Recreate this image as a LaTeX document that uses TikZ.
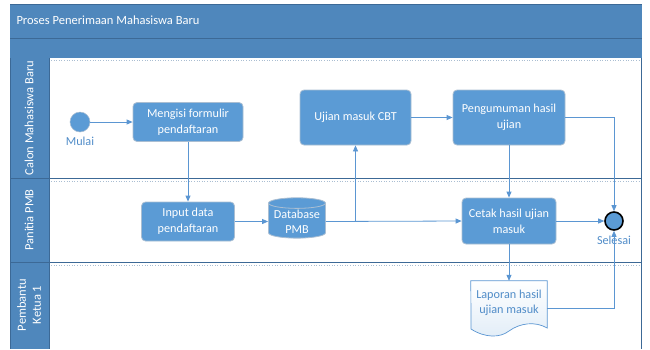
\documentclass[tikz,border=0pt]{standalone}
\usepackage{fontspec}
\setmainfont{Carlito}
\usetikzlibrary{arrows.meta,shapes.geometric}
\definecolor{band}{RGB}{79,135,188}
\definecolor{bandline}{RGB}{60,105,150}
\definecolor{boxfill}{RGB}{91,155,213}
\definecolor{boxline}{RGB}{170,190,210}
\definecolor{arrowc}{RGB}{91,150,210}
\definecolor{labelc}{RGB}{80,140,200}
\tikzset{
  task/.style={draw=boxline, line width=0.8pt, fill=boxfill, rounded corners=4pt, text=white, align=center, font=\fontsize{12.2}{16}\selectfont, inner sep=2pt},
  arr/.style={draw=arrowc, line width=0.8pt, -{Triangle[length=6pt,width=5pt]}},
  lanelabel/.style={rotate=90, text=white, align=center, font=\fontsize{12.5}{14}\selectfont},
  evlabel/.style={text=labelc, font=\fontsize{12.2}{14}\selectfont},
  lanesep/.style={draw=bandline, line width=1pt},
  lanedot/.style={draw=boxline, line width=0.6pt, dotted}
}
\begin{document}
\begin{tikzpicture}[x=1pt,y=-1pt]
\useasboundingbox (0,0) rectangle (650,349);
% header bands
\fill[band] (10,4) rectangle (642,58);
\draw[bandline, line width=0.6pt] (10,4) -- (642,4);
\draw[bandline, line width=0.8pt] (10,38) -- (642,38);
\node[anchor=west, text=white, font=\fontsize{12.5}{14}\selectfont] (title) at (13,20) {Proses Penerimaan Mahasiswa Baru};
% lane header column
\fill[band] (10,58) rectangle (49,349);
\draw[bandline, line width=0.8pt] (10,58) -- (10,349);
\draw[bandline, line width=0.8pt] (49,58) -- (49,349);
% lanes
\draw[bandline, line width=1pt] (641,58) -- (641,349);
\draw[lanedot] (51,60) -- (640,60);
\draw[lanesep] (10,178) -- (641,178);
\draw[lanedot] (51,181) -- (640,181);
\draw[lanesep] (10,262) -- (641,262);
\draw[lanedot] (51,265) -- (640,265);
\node[lanelabel] (l1) at (29,118) {Calon Mahasiswa Baru};
\node[lanelabel] (l2) at (29,220) {Panitia PMB};
\node[lanelabel, font=\fontsize{12.5}{15}\selectfont] (l3) at (29,305) {Pembantu\\Ketua 1};
% events
\node[circle, fill=boxfill, draw=boxline, line width=0.5pt, minimum size=20pt, inner sep=0pt] (mulai) at (80,122) {};
\node[evlabel] (mulaiL) at (80,141) {Mulai};
\node[circle, fill=boxfill, draw=black, line width=1.6pt, minimum size=18pt, inner sep=0pt] (selesai) at (614,221) {};
\node[evlabel] (selesaiL) at (614,240) {Selesai};
% tasks
\node[task, minimum width=110pt, minimum height=39pt] (mengisi) at (188,122) {Mengisi formulir\\pendaftaran};
\node[task, minimum width=111pt, minimum height=55pt] (ujian) at (355.5,117.5) {Ujian masuk CBT};
\node[task, minimum width=112pt, minimum height=55pt] (umum) at (509,117.5) {Pengumuman hasil\\ujian};
\node[task, minimum width=93pt, minimum height=39pt] (input) at (188,221.5) {Input data\\pendaftaran};
\node[task, minimum width=94pt, minimum height=46pt] (cetak) at (509,221) {Cetak hasil ujian\\masuk};
% database
\node[cylinder, shape border rotate=90, aspect=0.22, draw=boxline, line width=0.8pt, fill=boxfill, text=white, align=center, font=\fontsize{12.2}{15}\selectfont, minimum width=57pt, minimum height=39pt, inner sep=1pt] (db) at (297,221.5) {Database\\PMB};
% document
\node[minimum width=76pt, minimum height=48pt, inner sep=0pt] (lap) at (509,305) {};
\shade[top color=white, bottom color=boxfill!18, draw=arrowc, line width=0.7pt]
  (lap.north west) -- (lap.north east) -- ([yshift=-23pt]lap.east)
  .. controls (535,321) and (520,323) .. (509,331)
  .. controls (500,338) and (485,338) .. (471,329) -- cycle;
\node[text=labelc, align=center, font=\fontsize{12.2}{15}\selectfont] (lapT) at (509,303) {Laporan hasil\\ujian masuk};
% connectors
\draw[arr] (mulai) -- (mengisi);
\draw[arr] (mengisi.south) -- (input.north);
\draw[arr] (input) -- (db);
\draw[arr] (db.east) -- (cetak.west);
\draw[arr] (db.east) -| (ujian.south);
\draw[arr] (ujian) -- (umum);
\draw[arr] (umum.south) -- (cetak.north);
\draw[arr] (umum.east) -| (selesai.north);
\draw[arr] (cetak) -- (selesai);
\draw[arr] (cetak.south) -- (lap.north);
\draw[arr] ([yshift=-3pt]lap.east) -| (selesai.south);
\end{tikzpicture}
\end{document}
